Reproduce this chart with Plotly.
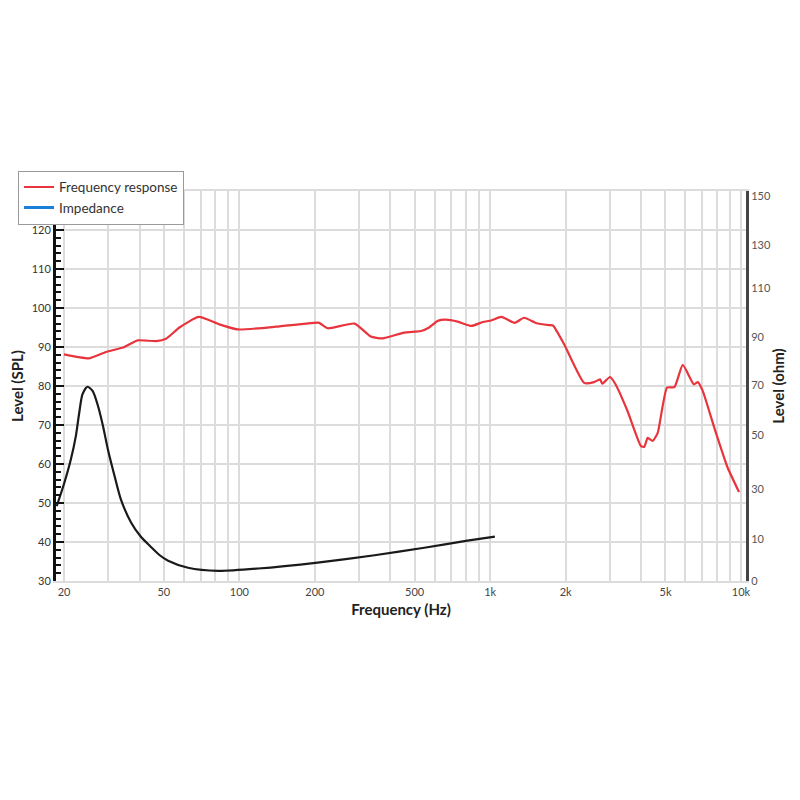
import plotly.graph_objects as go

# frequency response (left axis, dB SPL)
fr_freq = [20, 25.2, 29.4, 34.8, 39.3, 46.6, 51.0, 57.7, 68.9, 83.2, 98.6, 140, 184, 208, 225,
           288, 334, 372, 454, 530, 571, 618, 666, 742, 843, 934, 1010, 1109, 1253, 1366,
           1531, 1726, 1780, 1972, 2370, 2594, 2740, 2800, 3004, 3164, 3528, 3992, 4116,
           4246, 4446, 4656, 5072, 5428, 5860, 6490, 6732, 7044, 7828, 8844, 9824]
fr_level = [88.1, 87.1, 88.7, 90.0, 91.7, 91.5, 92.1, 95.0, 97.7, 95.8, 94.5, 95.2, 96.0, 96.2, 94.8,
            96.0, 92.7, 92.2, 93.7, 94.1, 95.0, 96.7, 97.0, 96.5, 95.4, 96.4, 96.8, 97.7, 96.2, 97.5,
            96.1, 95.6, 95.5, 90.7, 80.8, 81.0, 81.7, 80.6, 82.3, 80.4, 73.6, 64.6, 64.4,
            66.7, 65.9, 68.0, 79.6, 79.7, 85.4, 80.4, 81.0, 78.7, 69.3, 59.1, 52.8]

# impedance (right axis units)
imp_freq = [18.7, 20.06, 21.3, 22.3, 23.0, 23.7, 24.8, 26.0, 27.3, 28.6, 29.9, 31.8, 33.7,
            37.0, 40.5, 44.3, 48.0, 52.0, 62.4, 82.3, 118.8, 205, 346, 546, 811, 1044]
imp_level = [28.8, 37.8, 46.8, 55.8, 64.8, 71.9, 74.7, 73.1, 67.4, 59.6, 50.7, 40.4, 31.4,
             22.5, 17.0, 13.2, 10.0, 7.8, 5.1, 3.9, 4.8, 7.1, 9.9, 12.8, 15.5, 17.1]

x_ticks = [20, 50, 100, 200, 500, 1000, 2000, 5000, 10000]
x_labels = ["20", "50", "100", "200", "500", "1k", "2k", "5k", "10k"]
x_minor = [30, 40, 60, 70, 80, 90, 300, 400, 600, 700, 800, 900,
           3000, 4000, 6000, 7000, 8000, 9000]

spl_ticks = [30, 40, 50, 60, 70, 80, 90, 100, 110, 120]
ohm_pos = [0, 16.2, 35.4, 56.2, 75.4, 93.8, 112.7, 129, 148]
ohm_labels = ["0", "10", "30", "50", "70", "90", "110", "130", "150"]

FONT = "Lato"
GRID = "#dcdcdc"

fig = go.Figure()

fig.add_trace(go.Scatter(
    x=fr_freq, y=fr_level, mode="lines", name="Frequency response",
    line=dict(color="#e8343c", width=2.2, shape="spline", smoothing=0.5),
))
fig.add_trace(go.Scatter(
    x=imp_freq, y=imp_level, mode="lines", name="Impedance curve", showlegend=False,
    line=dict(color="#1a1a1a", width=2.2, shape="spline", smoothing=0.7),
    yaxis="y2",
))
# legend entry for impedance (blue as in the original legend)
fig.add_trace(go.Scatter(
    x=[None], y=[None], mode="lines", name="Impedance",
    line=dict(color="#1a7fd6", width=3),
))

# page body adds ~7px offset, so margins are shifted up/left
fig.update_layout(
    width=800, height=800,
    paper_bgcolor="white", plot_bgcolor="white",
    margin=dict(l=48, r=62, t=183, b=227, autoexpand=False),
    font=dict(family=FONT, color="#333"),
    showlegend=True,
    legend=dict(
        x=-0.055, y=1.052, xanchor="left", yanchor="top",
        bgcolor="white", bordercolor="#9a9a9a", borderwidth=1,
        font=dict(size=13.5, color="#333"),
        tracegroupgap=0, itemwidth=30,
    ),
    xaxis=dict(
        type="log", range=[1.269, 4.02],
        tickmode="array", tickvals=x_ticks, ticktext=x_labels,
        ticks="", tickfont=dict(size=11, color="#444"),
        showgrid=True, gridcolor=GRID, gridwidth=1.5,
        minor=dict(tickmode="array", tickvals=x_minor, showgrid=True,
                   gridcolor=GRID, gridwidth=1.5, ticks=""),
        showline=True, linecolor=GRID, linewidth=1.5, mirror=True,
        zeroline=False,
        title=dict(text="<b>Frequency (Hz)</b>", font=dict(size=15, color="#222"), standoff=8),
    ),
    yaxis=dict(
        range=[30, 130],
        tickmode="array", tickvals=spl_ticks,
        ticks="inside", ticklen=8, tickwidth=2, tickcolor="#111",
        minor=dict(dtick=2, tick0=30, ticks="inside", ticklen=5, tickwidth=2,
                   tickcolor="#111", showgrid=False),
        tickfont=dict(size=11, color="#333"),
        showgrid=True, gridcolor=GRID, gridwidth=1.5,
        showline=True, linecolor="#111", linewidth=3,
        zeroline=False,
        title=dict(text="<b>Level (SPL)</b>", font=dict(size=15, color="#222"), standoff=6),
    ),
    yaxis2=dict(
        overlaying="y", side="right", range=[0, 150],
        tickmode="array", tickvals=ohm_pos, ticktext=ohm_labels,
        ticks="", tickfont=dict(size=11, color="#555"),
        showgrid=False, zeroline=False,
        showline=True, linecolor="#444", linewidth=3,
        title=dict(text="<b>Level (ohm)</b>", font=dict(size=15, color="#222"), standoff=4),
    ),
)

fig.write_html("out.html")
